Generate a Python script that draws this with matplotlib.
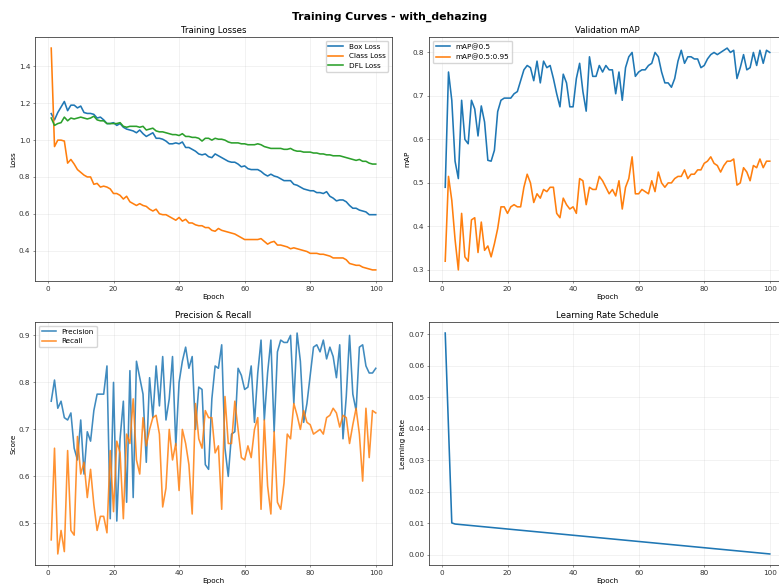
import matplotlib
matplotlib.use("Agg")
import matplotlib.pyplot as plt

epochs = list(range(1, 101))

box_loss = [1.144, 1.11, 1.15, 1.18, 1.21, 1.16, 1.19, 1.19, 1.175, 1.185,
            1.15, 1.145, 1.145, 1.14, 1.12, 1.125, 1.11, 1.09, 1.09, 1.095,
            1.08, 1.09, 1.07, 1.06, 1.055, 1.05, 1.04, 1.055, 1.035, 1.02,
            1.03, 1.04, 1.01, 1.01, 1.005, 0.995, 0.98, 0.98, 0.985, 0.98,
            0.99, 0.96, 0.96, 0.95, 0.94, 0.925, 0.92, 0.925, 0.91, 0.905,
            0.925, 0.915, 0.905, 0.895, 0.885, 0.88, 0.88, 0.87, 0.855, 0.86,
            0.845, 0.84, 0.84, 0.84, 0.83, 0.815, 0.805, 0.815, 0.805, 0.8,
            0.79, 0.78, 0.78, 0.78, 0.76, 0.755, 0.745, 0.735, 0.73, 0.725,
            0.725, 0.715, 0.715, 0.71, 0.72, 0.695, 0.685, 0.67, 0.675, 0.675,
            0.665, 0.645, 0.63, 0.63, 0.62, 0.615, 0.61, 0.595, 0.595, 0.595]

cls_loss = [1.5, 0.965, 1.0, 1.0, 0.995, 0.875, 0.895, 0.87, 0.84, 0.825,
            0.81, 0.8, 0.8, 0.76, 0.765, 0.745, 0.75, 0.745, 0.735, 0.71,
            0.71, 0.7, 0.68, 0.695, 0.665, 0.655, 0.645, 0.655, 0.645, 0.64,
            0.625, 0.615, 0.625, 0.6, 0.595, 0.595, 0.585, 0.575, 0.565, 0.58,
            0.56, 0.57, 0.55, 0.55, 0.54, 0.535, 0.535, 0.525, 0.525, 0.51,
            0.505, 0.52, 0.51, 0.505, 0.5, 0.495, 0.49, 0.48, 0.47, 0.46,
            0.46, 0.46, 0.46, 0.46, 0.465, 0.45, 0.435, 0.445, 0.45, 0.43,
            0.43, 0.425, 0.42, 0.41, 0.415, 0.41, 0.405, 0.4, 0.395, 0.385,
            0.385, 0.385, 0.38, 0.38, 0.375, 0.37, 0.36, 0.36, 0.36, 0.36,
            0.35, 0.33, 0.325, 0.32, 0.32, 0.31, 0.305, 0.3, 0.295, 0.295]

dfl_loss = [1.12, 1.08, 1.09, 1.095, 1.125, 1.105, 1.12, 1.115, 1.12, 1.125,
            1.12, 1.115, 1.12, 1.13, 1.11, 1.105, 1.105, 1.09, 1.09, 1.09,
            1.09, 1.095, 1.075, 1.07, 1.075, 1.075, 1.075, 1.07, 1.075, 1.055,
            1.06, 1.065, 1.05, 1.045, 1.045, 1.04, 1.035, 1.03, 1.03, 1.025,
            1.035, 1.02, 1.02, 1.015, 1.015, 1.01, 0.995, 1.01, 1.01, 1.0,
            1.01, 1.005, 1.005, 1.0, 0.99, 0.985, 0.985, 0.985, 0.98, 0.98,
            0.975, 0.975, 0.975, 0.98, 0.975, 0.965, 0.96, 0.955, 0.955, 0.955,
            0.955, 0.95, 0.95, 0.955, 0.945, 0.94, 0.94, 0.935, 0.935, 0.935,
            0.93, 0.93, 0.925, 0.925, 0.92, 0.92, 0.915, 0.915, 0.915, 0.91,
            0.905, 0.9, 0.895, 0.89, 0.895, 0.885, 0.885, 0.875, 0.87, 0.87]

map50 = [0.49, 0.755, 0.69, 0.55, 0.51, 0.69, 0.6, 0.59, 0.69, 0.67,
         0.608, 0.677, 0.64, 0.552, 0.55, 0.575, 0.664, 0.69, 0.695, 0.695,
         0.695, 0.705, 0.71, 0.735, 0.76, 0.77, 0.765, 0.735, 0.78, 0.73,
         0.78, 0.765, 0.77, 0.74, 0.705, 0.675, 0.75, 0.73, 0.675, 0.675,
         0.74, 0.775, 0.71, 0.665, 0.79, 0.745, 0.745, 0.77, 0.755, 0.77,
         0.76, 0.76, 0.705, 0.755, 0.69, 0.765, 0.79, 0.8, 0.745, 0.755,
         0.76, 0.76, 0.77, 0.775, 0.8, 0.79, 0.755, 0.73, 0.73, 0.72,
         0.74, 0.78, 0.805, 0.775, 0.79, 0.79, 0.785, 0.785, 0.765, 0.77,
         0.785, 0.795, 0.8, 0.795, 0.8, 0.805, 0.81, 0.8, 0.805, 0.74,
         0.765, 0.795, 0.76, 0.765, 0.8, 0.77, 0.805, 0.775, 0.805, 0.8]

map50_95 = [0.32, 0.515, 0.46, 0.37, 0.3, 0.43, 0.33, 0.32, 0.415, 0.42,
            0.34, 0.41, 0.345, 0.355, 0.33, 0.36, 0.395, 0.445, 0.445, 0.43,
            0.445, 0.45, 0.445, 0.445, 0.49, 0.52, 0.5, 0.455, 0.475, 0.465,
            0.485, 0.48, 0.49, 0.49, 0.43, 0.42, 0.465, 0.45, 0.44, 0.445,
            0.43, 0.51, 0.505, 0.45, 0.49, 0.485, 0.485, 0.515, 0.505, 0.49,
            0.475, 0.485, 0.47, 0.505, 0.44, 0.49, 0.51, 0.56, 0.475, 0.475,
            0.485, 0.48, 0.475, 0.505, 0.48, 0.525, 0.5, 0.49, 0.5, 0.5,
            0.51, 0.515, 0.515, 0.53, 0.51, 0.52, 0.52, 0.53, 0.53, 0.545,
            0.55, 0.56, 0.545, 0.54, 0.525, 0.54, 0.55, 0.55, 0.555, 0.495,
            0.5, 0.535, 0.525, 0.505, 0.54, 0.535, 0.555, 0.535, 0.55, 0.55]

precision = [0.76, 0.805, 0.745, 0.76, 0.725, 0.72, 0.735, 0.66, 0.635, 0.72,
             0.605, 0.695, 0.675, 0.74, 0.775, 0.775, 0.775, 0.835, 0.51, 0.8,
             0.505, 0.68, 0.76, 0.545, 0.825, 0.555, 0.845, 0.81, 0.775, 0.63,
             0.81, 0.725, 0.835, 0.75, 0.855, 0.72, 0.765, 0.855, 0.665, 0.8,
             0.845, 0.875, 0.83, 0.855, 0.7, 0.79, 0.785, 0.625, 0.615, 0.765,
             0.835, 0.83, 0.88, 0.66, 0.6, 0.69, 0.695, 0.83, 0.815, 0.785,
             0.79, 0.835, 0.715, 0.82, 0.89, 0.72, 0.82, 0.89, 0.695, 0.865,
             0.89, 0.885, 0.885, 0.9, 0.755, 0.905, 0.845, 0.715, 0.755, 0.815,
             0.875, 0.88, 0.865, 0.89, 0.85, 0.875, 0.855, 0.81, 0.88, 0.68,
             0.77, 0.9, 0.775, 0.74, 0.875, 0.88, 0.835, 0.82, 0.82, 0.83]

recall = [0.465, 0.66, 0.435, 0.485, 0.44, 0.655, 0.485, 0.475, 0.685, 0.605,
          0.63, 0.555, 0.615, 0.54, 0.485, 0.515, 0.515, 0.48, 0.655, 0.525,
          0.675, 0.65, 0.51, 0.69, 0.67, 0.765, 0.635, 0.605, 0.725, 0.665,
          0.7, 0.725, 0.73, 0.69, 0.535, 0.575, 0.7, 0.635, 0.67, 0.57,
          0.7, 0.67, 0.625, 0.52, 0.755, 0.68, 0.66, 0.74, 0.725, 0.725,
          0.65, 0.665, 0.53, 0.77, 0.67, 0.67, 0.76, 0.7, 0.64, 0.635,
          0.665, 0.64, 0.7, 0.725, 0.53, 0.72, 0.58, 0.52, 0.695, 0.545,
          0.53, 0.585, 0.69, 0.68, 0.755, 0.73, 0.7, 0.74, 0.715, 0.71,
          0.69, 0.695, 0.7, 0.69, 0.725, 0.73, 0.745, 0.735, 0.705, 0.73,
          0.725, 0.67, 0.71, 0.745, 0.69, 0.59, 0.745, 0.64, 0.74, 0.735]

lr = [0.07033, 0.040195, 0.01006, 0.009703, 0.009604, 0.009505, 0.009406, 0.009307, 0.009208, 0.009109,
      0.009010, 0.008911, 0.008812, 0.008713, 0.008614, 0.008515, 0.008416, 0.008317, 0.008218, 0.008119,
      0.008020, 0.007921, 0.007822, 0.007723, 0.007624, 0.007525, 0.007426, 0.007327, 0.007228, 0.007129,
      0.007030, 0.006931, 0.006832, 0.006733, 0.006634, 0.006535, 0.006436, 0.006337, 0.006238, 0.006139,
      0.006040, 0.005941, 0.005842, 0.005743, 0.005644, 0.005545, 0.005446, 0.005347, 0.005248, 0.005149,
      0.005050, 0.004951, 0.004852, 0.004753, 0.004654, 0.004555, 0.004456, 0.004357, 0.004258, 0.004159,
      0.004060, 0.003961, 0.003862, 0.003763, 0.003664, 0.003565, 0.003466, 0.003367, 0.003268, 0.003169,
      0.003070, 0.002971, 0.002872, 0.002773, 0.002674, 0.002575, 0.002476, 0.002377, 0.002278, 0.002179,
      0.002080, 0.001981, 0.001882, 0.001783, 0.001684, 0.001585, 0.001486, 0.001387, 0.001288, 0.001189,
      0.001090, 0.000991, 0.000892, 0.000793, 0.000694, 0.000595, 0.000496, 0.000397, 0.000298, 0.000199]

S = 0.468
F = 0.52
plt.rcParams.update({
    "font.size": 10 * F,
    "axes.linewidth": 1.2 * S,
    "axes.edgecolor": "#333333",
    "xtick.major.width": 0.8 * S,
    "ytick.major.width": 0.8 * S,
    "xtick.major.size": 3.5 * S,
    "ytick.major.size": 3.5 * S,
    "xtick.major.pad": 3.5 * S,
    "ytick.major.pad": 3.5 * S,
    "xtick.color": "#333333",
    "ytick.color": "#333333",
    "axes.labelpad": 4 * S,
    "axes.titlepad": 6 * S,
    "axes.titlesize": 12 * F,
    "axes.labelsize": 10 * F,
    "xtick.labelsize": 10 * F,
    "ytick.labelsize": 10 * F,
    "legend.fontsize": 10 * F,
    "grid.linewidth": 0.8 * S,
})

W, H = 779, 585
fig = plt.figure(figsize=(W / 100, H / 100), dpi=100)

def ax_at(x0, y0, x1, y1):
    return fig.add_axes([x0 / W, 1 - y1 / H, (x1 - x0) / W, (y1 - y0) / H])

ax1 = ax_at(35, 37, 392, 281)
ax2 = ax_at(429, 37, 786, 281)
ax3 = ax_at(35, 322, 392, 565)
ax4 = ax_at(429, 322, 786, 565)

lw = 1.15

ax1.plot(epochs, box_loss, label="Box Loss", lw=lw)
ax1.plot(epochs, cls_loss, label="Class Loss", lw=lw)
ax1.plot(epochs, dfl_loss, label="DFL Loss", lw=lw)
ax1.set_title("Training Losses")
ax1.set_xlabel("Epoch")
ax1.set_ylabel("Loss")
ax1.legend(loc="upper right")
ax1.grid(True, alpha=0.3)

ax2.plot(epochs, map50, label="mAP@0.5", lw=lw)
ax2.plot(epochs, map50_95, label="mAP@0.5:0.95", lw=lw)
ax2.set_title("Validation mAP")
ax2.set_xlabel("Epoch")
ax2.set_ylabel("mAP")
ax2.legend(loc="upper left")
ax2.grid(True, alpha=0.3)

ax3.plot(epochs, precision, label="Precision", lw=lw, alpha=0.85)
ax3.plot(epochs, recall, label="Recall", lw=lw, alpha=0.85)
ax3.set_title("Precision & Recall")
ax3.set_xlabel("Epoch")
ax3.set_ylabel("Score")
ax3.legend(loc="upper left")
ax3.grid(True, alpha=0.3)

ax4.plot(epochs, lr, lw=lw)
ax4.set_title("Learning Rate Schedule")
ax4.set_xlabel("Epoch")
ax4.set_ylabel("Learning Rate")
ax4.grid(True, alpha=0.3)

fig.suptitle("Training Curves - with_dehazing", fontsize=16 * 0.49, fontweight="bold",
             y=1 - 17 / H, va="center")

fig.savefig("out.png", dpi=100)
